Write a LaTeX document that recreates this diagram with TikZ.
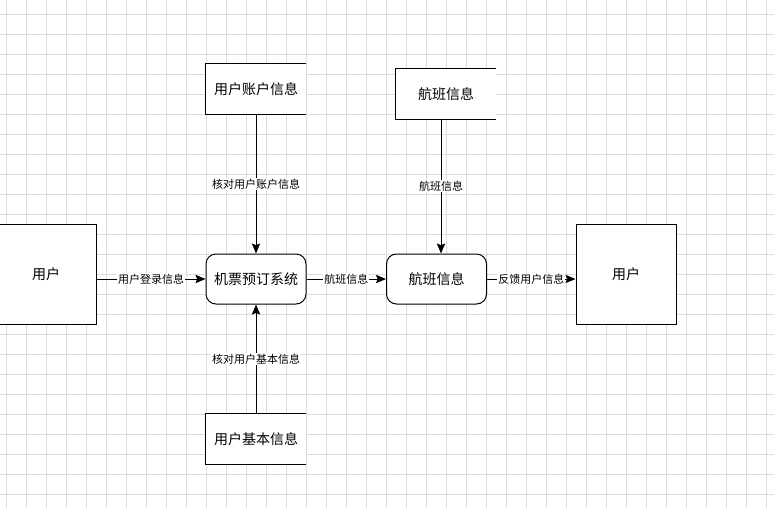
\documentclass[tikz,border=0pt]{standalone}
\usepackage{fontspec}
\setmainfont{Noto Sans CJK SC}
\usetikzlibrary{arrows.meta}
\definecolor{gridc}{HTML}{DCDCDC}
\begin{document}
\begin{tikzpicture}[x=0.75pt,y=-0.75pt,
  big/.style={font=\fontsize{10.5}{12}\selectfont},
  ent/.style={draw,line width=0.75pt,minimum width=75pt,minimum height=75pt,inner sep=0pt,big},
  proc/.style={draw,fill=white,rounded corners=7.5pt,line width=0.75pt,minimum width=75pt,minimum height=37.5pt,inner sep=0pt,big},
  store/.style={fill=white,minimum width=75pt,minimum height=37.5pt,inner sep=0pt,big},
  storeline/.style={line width=0.75pt},
  arr/.style={line width=0.75pt,-{Stealth[length=7.5pt,width=6.2pt,inset=1.2pt]}},
  lab/.style={fill=white,inner sep=0.6pt,font=\fontsize{8.25}{9}\selectfont}]
\useasboundingbox (0,0) rectangle (774,508);
\begin{scope}
\clip (0,0) rectangle (774,508);
\foreach \x in {6,26,...,766} \draw[gridc,line width=0.75pt] (\x,0) -- (\x,508);
\foreach \y in {14,34,...,494} \draw[gridc,line width=0.75pt] (0,\y) -- (774,\y);
\node[ent,fill=white] (u1) at (46,274) {用户};
\end{scope}
\node[ent,fill=white] (u2) at (626,274) {用户};
\node[proc] (sys) at (256,279) {机票预订系统};
\node[proc] (fp) at (436.5,279) {航班信息};
\node[store] (s1) at (256,89) {用户账户信息};
\node[store] (s2) at (446,94) {航班信息};
\node[store] (s3) at (256,439) {用户基本信息};
\foreach \s in {s1,s2,s3}
  \draw[storeline] (\s.north east) -- (\s.north west) -- (\s.south west) -- (\s.south east);
\coordinate (fx) at (441,0);
\draw[arr] (s1.south) -- node[lab] {核对用户账户信息} (sys.north);
\draw[arr] (s3.north) -- node[lab] {核对用户基本信息} (sys.south);
\draw[arr] (s2.south -| fx) -- node[lab] {航班信息} (fp.north -| fx);
\draw[arr] (u1.east |- sys.west) -- node[lab] {用户登录信息} (sys.west);
\draw[arr] (sys.east) -- node[lab] {航班信息} (fp.west);
\draw[arr] (fp.east) -- node[lab] {反馈用户信息} (u2.west |- fp.east);
\end{tikzpicture}
\end{document}
